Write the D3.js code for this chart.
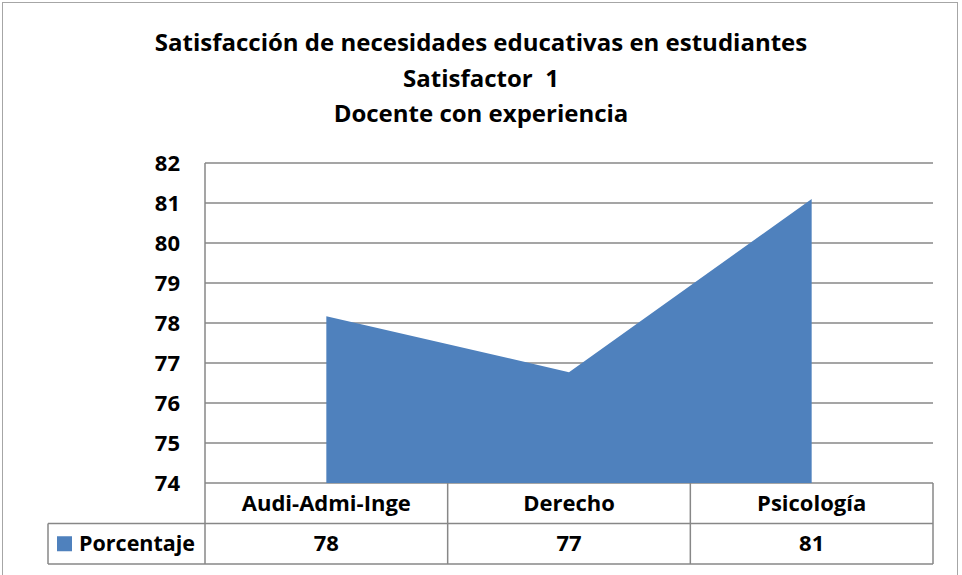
<!doctype html>
<html lang="es">
<head>
  <meta charset="utf-8">
  <title>Satisfactor 1</title>
</head>
<style>
body {
	margin: 0;
	background: #fff;
	font-family: "Open Sans", Lato, sans-serif;
}
text {
	font-weight: bold;
	fill: #000;
}
</style>
<body>
  <script src="https://d3js.org/d3.v7.min.js"></script>
  <script>

	// Data
	var categories = ["Audi-Admi-Inge", "Derecho", "Psicología"];
	var values = [78.17, 76.77, 81.1];
	var tableLabels = ["78", "77", "81"];
	var seriesName = "Porcentaje";
	var yTicks = [74, 75, 76, 77, 78, 79, 80, 81, 82];
	var titleLines = ["Satisfacción de necesidades educativas en estudiantes", "Satisfactor  1", "Docente con experiencia"];

	var svg = d3.select("body").append("svg")
		.attr("width", 962)
		.attr("height", 575);

	var margin = {top: 163, left: 205, right: 29, bottom: 92},
		width = 962 - margin.left - margin.right,
		height = 575 - margin.top - margin.bottom,
		rowH = 40.5,
		legendLeft = 48;

	var gridColor = "#878787";

	// outer chart frame
	svg.append("rect")
		.attr("x", 2.5).attr("y", 2.5)
		.attr("width", 955).attr("height", 580)
		.attr("fill", "none")
		.attr("stroke", "#a6a6a6")
		.attr("stroke-width", 1);

	// Title
	svg.selectAll(".title")
		.data(titleLines)
		.join("text")
		.attr("class", "title")
		.attr("x", 481)
		.attr("y", function (d, i) { return 51 + i * 35.5; })
		.attr("text-anchor", "middle")
		.attr("font-size", "24px")
		.style("white-space", "pre")
		.text(function (d) { return d; });

	var g = svg.append("g").attr("transform", "translate(" + margin.left + "," + margin.top + ")");

	var x = d3.scaleBand()
		.domain(categories)
		.range([0, width])
		.padding(0);

	var y = d3.scaleLinear()
		.domain([74, 82])
		.range([height, 0]);

	// gridlines
	g.selectAll(".grid")
		.data(yTicks)
		.join("line")
		.attr("class", "grid")
		.attr("x1", 0).attr("x2", width)
		.attr("y1", function (d) { return y(d); })
		.attr("y2", function (d) { return y(d); })
		.attr("stroke", gridColor)
		.attr("stroke-width", 1.5);

	// area
	var area = d3.area()
		.x(function (d, i) { return x(categories[i]) + x.bandwidth() / 2; })
		.y0(y(74))
		.y1(function (d) { return y(d); });

	g.append("path")
		.datum(values)
		.attr("d", area)
		.attr("fill", "#4f81bd");

	// y axis labels
	g.selectAll(".ylab")
		.data(yTicks)
		.join("text")
		.attr("class", "ylab")
		.attr("x", -25)
		.attr("y", function (d) { return y(d); })
		.attr("dy", "0.35em")
		.attr("text-anchor", "end")
		.attr("font-size", "22px")
		.text(function (d) { return d; });

	// data table lines
	var tableBottom = height + 2 * rowH;
	var bounds = [0].concat(categories.map(function (c) { return x(c) + x.bandwidth(); }));

	g.selectAll(".vline")
		.data(bounds)
		.join("line")
		.attr("class", "vline")
		.attr("x1", function (d) { return d; })
		.attr("x2", function (d) { return d; })
		.attr("y1", function (d, i) { return i == 0 ? 0 : height; })
		.attr("y2", tableBottom)
		.attr("stroke", gridColor)
		.attr("stroke-width", 1.5);

	g.selectAll(".hline")
		.data([height + rowH, tableBottom])
		.join("line")
		.attr("class", "hline")
		.attr("x1", legendLeft - margin.left)
		.attr("x2", width)
		.attr("y1", function (d) { return d; })
		.attr("y2", function (d) { return d; })
		.attr("stroke", gridColor)
		.attr("stroke-width", 1.5);

	g.append("line")
		.attr("x1", legendLeft - margin.left)
		.attr("x2", legendLeft - margin.left)
		.attr("y1", height + rowH)
		.attr("y2", tableBottom)
		.attr("stroke", gridColor)
		.attr("stroke-width", 1.5);

	// category labels
	g.selectAll(".cat")
		.data(categories)
		.join("text")
		.attr("class", "cat")
		.attr("x", function (d) { return x(d) + x.bandwidth() / 2; })
		.attr("y", height + rowH / 2)
		.attr("dy", "0.35em")
		.attr("text-anchor", "middle")
		.attr("font-size", "22px")
		.text(function (d) { return d; });

	// value labels
	g.selectAll(".val")
		.data(tableLabels)
		.join("text")
		.attr("class", "val")
		.attr("x", function (d, i) { return x(categories[i]) + x.bandwidth() / 2; })
		.attr("y", height + rowH * 1.5)
		.attr("dy", "0.35em")
		.attr("text-anchor", "middle")
		.attr("font-size", "22px")
		.text(function (d) { return d; });

	// legend key
	g.append("rect")
		.attr("x", legendLeft - margin.left + 9)
		.attr("y", height + rowH * 1.5 - 7.5)
		.attr("width", 15)
		.attr("height", 15)
		.attr("fill", "#4f81bd");

	g.append("text")
		.attr("x", legendLeft - margin.left + 31)
		.attr("y", height + rowH * 1.5)
		.attr("dy", "0.35em")
		.attr("font-size", "21.5px")
		.text(seriesName);

  </script>
</body>
</html>
